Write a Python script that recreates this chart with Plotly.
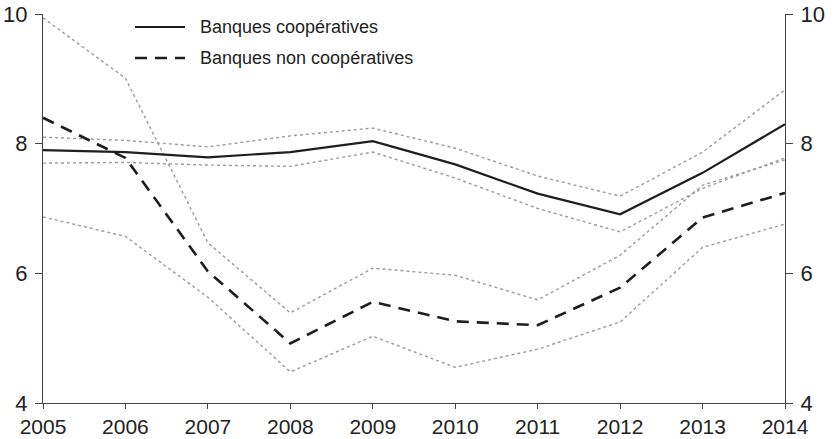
import plotly.graph_objects as go

years = [2005, 2006, 2007, 2008, 2009, 2010, 2011, 2012, 2013, 2014]

# Banques coopératives: estimate and confidence band
coop = [7.90, 7.87, 7.79, 7.87, 8.04, 7.68, 7.23, 6.91, 7.55, 8.30]
coop_hi = [8.10, 8.05, 7.95, 8.12, 8.24, 7.93, 7.50, 7.19, 7.87, 8.83]
coop_lo = [7.70, 7.71, 7.67, 7.65, 7.87, 7.47, 7.00, 6.64, 7.31, 7.78]

# Banques non coopératives: estimate and confidence band
noncoop = [8.40, 7.78, 6.03, 4.92, 5.56, 5.26, 5.20, 5.78, 6.86, 7.24]
noncoop_hi = [9.94, 9.01, 6.47, 5.39, 6.08, 5.97, 5.59, 6.28, 7.36, 7.75]
noncoop_lo = [6.87, 6.57, 5.63, 4.48, 5.03, 4.55, 4.83, 5.25, 6.40, 6.76]

y_ticks = [4, 6, 8, 10]
legend_labels = ["Banques coopératives", "Banques non coopératives"]

FONT = "Liberation Sans, Arial, sans-serif"
band = dict(color="#9a9a9a", width=1.4, dash="dot")

# plot area in pixels
L, R, T, B = 43, 785, 14, 403
W, H = 835, 439

fig = go.Figure()
for ys in (coop_hi, coop_lo, noncoop_hi, noncoop_lo):
    fig.add_trace(go.Scatter(x=years, y=ys, mode="lines", line=band,
                             showlegend=False, hoverinfo="skip"))
fig.add_trace(go.Scatter(x=years, y=coop, mode="lines", name=legend_labels[0],
                         line=dict(color="#1e1e1e", width=2.2), showlegend=False))
fig.add_trace(go.Scatter(x=years, y=noncoop, mode="lines", name=legend_labels[1],
                         line=dict(color="#1e1e1e", width=2.6, dash="12px,8px"),
                         showlegend=False))
# invisible trace to activate the right-hand axis
fig.add_trace(go.Scatter(x=[years[0]], y=[y_ticks[0]], yaxis="y2", mode="lines",
                         line=dict(width=0), showlegend=False, hoverinfo="skip"))

# hand-drawn legend in the upper-left corner
for i, (label, dash) in enumerate(zip(legend_labels, ["solid", "dash"])):
    yp = 27 + 31 * i
    ypaper = 1 - (yp - T) / (B - T)
    fig.add_shape(type="line", xref="paper", yref="paper",
                  x0=(135 - L) / (R - L), x1=(185 - L) / (R - L),
                  y0=ypaper, y1=ypaper,
                  line=dict(color="#1e1e1e", width=2.2 if dash == "solid" else 2.6,
                            dash="solid" if dash == "solid" else "12px,8px"))
    fig.add_annotation(text=label, xref="paper", yref="paper",
                       x=(198 - L) / (R - L), y=ypaper,
                       xanchor="left", yanchor="middle", showarrow=False,
                       font=dict(family=FONT, size=18, color="#222"))

axis_common = dict(showgrid=False, zeroline=False, showline=True,
                   linecolor="#444", linewidth=1.2, ticks="outside",
                   tickcolor="#444", automargin=False)

y_axis = dict(range=[4, 10], tickvals=y_ticks, ticklen=7, ticklabelstandoff=3,
              tickfont=dict(family=FONT, size=22, color="#222"), **axis_common)

fig.update_layout(
    width=W, height=H,
    margin=dict(l=L, r=W - R, t=T, b=H - B, autoexpand=False),
    paper_bgcolor="white", plot_bgcolor="white",
    xaxis=dict(range=[2005, 2014], tickvals=years, ticklen=5,
               tickfont=dict(family=FONT, size=21, color="#222"), **axis_common),
    yaxis=y_axis,
    yaxis2=dict(overlaying="y", side="right", **y_axis),
    showlegend=False,
)

fig.write_html("out.html")
